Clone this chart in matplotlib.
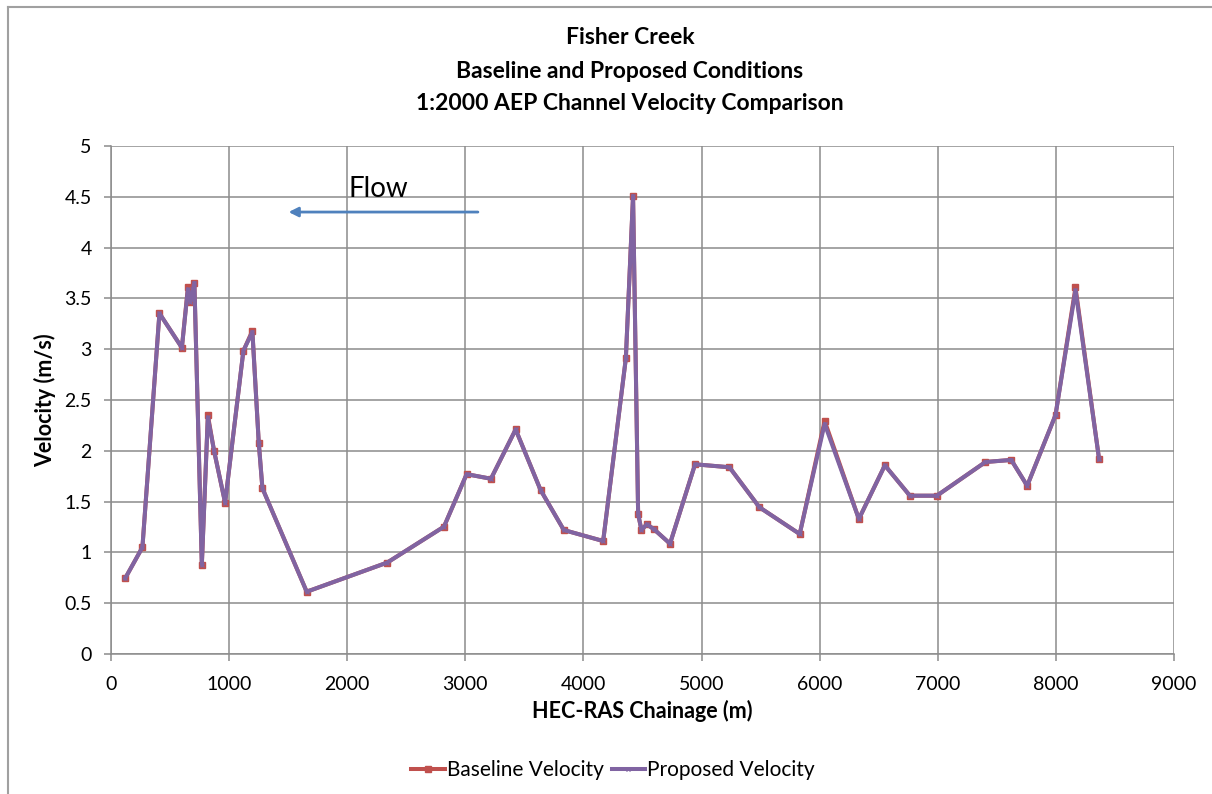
import matplotlib
matplotlib.use("Agg")
import matplotlib.pyplot as plt
from matplotlib.lines import Line2D

plt.rcParams["font.family"] = ["Lato", "DejaVu Sans"]

# HEC-RAS cross-section chainage (m) and channel velocity (m/s)
chainage = [120, 266, 410, 600, 651, 673, 706, 769, 820, 873, 966, 1121, 1197,
            1251, 1282, 1657, 2339, 2819, 3011, 3217, 3426, 3637, 3834, 4167,
            4359, 4420, 4463, 4491, 4536, 4598, 4733, 4945, 5236, 5490, 5831,
            6042, 6332, 6552, 6764, 6992, 7404, 7622, 7757, 7997, 8166, 8366]
baseline_velocity = [0.745, 1.05, 3.353, 3.015, 3.61, 3.467, 3.654, 0.879, 2.352,
                     1.998, 1.489, 2.985, 3.182, 2.08, 1.631, 0.613, 0.90, 1.253,
                     1.77, 1.725, 2.21, 1.614, 1.22, 1.112, 2.91, 4.508, 1.378,
                     1.22, 1.277, 1.227, 1.086, 1.867, 1.838, 1.444, 1.181, 2.295,
                     1.329, 1.857, 1.558, 1.558, 1.89, 1.91, 1.656, 2.352, 3.609,
                     1.916]
proposed_velocity = [0.745, 1.05, 3.353, 3.015, 3.59, 3.467, 3.654, 0.879, 2.33,
                     1.998, 1.489, 2.985, 3.17, 2.08, 1.631, 0.613, 0.90, 1.253,
                     1.77, 1.725, 2.21, 1.614, 1.22, 1.112, 2.91, 4.508, 1.378,
                     1.22, 1.277, 1.227, 1.086, 1.867, 1.838, 1.444, 1.181, 2.265,
                     1.329, 1.857, 1.558, 1.558, 1.89, 1.91, 1.656, 2.352, 3.58,
                     1.916]

x_ticks = list(range(0, 9001, 1000))
y_ticks = [0, 0.5, 1, 1.5, 2, 2.5, 3, 3.5, 4, 4.5, 5]
y_tick_labels = ["0", "0.5", "1", "1.5", "2", "2.5", "3", "3.5", "4", "4.5", "5"]

title_lines = ["Fisher Creek", "Baseline and Proposed Conditions",
               "1:2000 AEP Channel Velocity Comparison"]

W, H = 1212, 794
fig = plt.figure(figsize=(W / 100, H / 100), dpi=100)

# chart frame (left and top edges)
fig.add_artist(Line2D([8 / W, 8 / W], [0, 1 - 7 / H], transform=fig.transFigure,
                      color="#A0A0A0", lw=1.5))
fig.add_artist(Line2D([8 / W, 1], [1 - 7 / H, 1 - 7 / H], transform=fig.transFigure,
                      color="#A0A0A0", lw=1.5))

left, right, top, bottom = 111, 1174, 146, 654
ax = fig.add_axes([left / W, 1 - bottom / H, (right - left) / W, (bottom - top) / H])

grid_col = "#8C8C8C"
ax.set_xlim(0, 9000)
ax.set_ylim(0, 5)
ax.set_xticks(x_ticks)
ax.set_yticks(y_ticks)
ax.set_yticklabels(y_tick_labels)
ax.grid(True, color=grid_col, lw=1.1)
ax.set_axisbelow(True)
for side in ["top", "right"]:
    ax.spines[side].set_visible(False)
for side in ["left", "bottom"]:
    ax.spines[side].set_color(grid_col)
    ax.spines[side].set_linewidth(1.1)
ax.tick_params(axis="both", colors=grid_col, labelcolor="black", labelsize=14,
               length=5, width=1.1, direction="out")
ax.tick_params(axis="x", pad=11)
ax.tick_params(axis="y", pad=9)

ax.plot(chainage, baseline_velocity, color="#C0504D", lw=2.9, marker="s",
        markersize=4.5, markerfacecolor="#C0504D", markeredgecolor="#C0504D",
        label="Baseline Velocity", zorder=3)
ax.plot(chainage, proposed_velocity, color="#8064A2", lw=2.9, marker="x",
        markersize=3.5, markeredgecolor="#8064A2", label="Proposed Velocity",
        zorder=4)

ax.set_xlabel("HEC-RAS Chainage (m)", fontsize=15.5, fontweight="bold", labelpad=5)
ax.set_ylabel("Velocity (m/s)", fontsize=15.5, fontweight="bold", labelpad=6)

# flow direction annotation
ax.annotate("", xy=(1480, 4.35), xytext=(3130, 4.35),
            arrowprops=dict(arrowstyle="-|>", color="#4F81BD", lw=2,
                            mutation_scale=14))
ax.text(2265, 4.58, "Flow", fontsize=20, ha="center", va="center")

for i, line in enumerate(title_lines):
    fig.text(630 / W, 1 - (38 + 33 * i) / H, line,
             ha="center", va="center", fontsize=16.5, fontweight="bold")

fig.legend(loc="center", bbox_to_anchor=(613 / W, 1 - 770 / H), ncol=2,
           frameon=False, fontsize=15, handlelength=1.6, handletextpad=0.1,
           columnspacing=0.4)

fig.savefig("out.png", dpi=100)
